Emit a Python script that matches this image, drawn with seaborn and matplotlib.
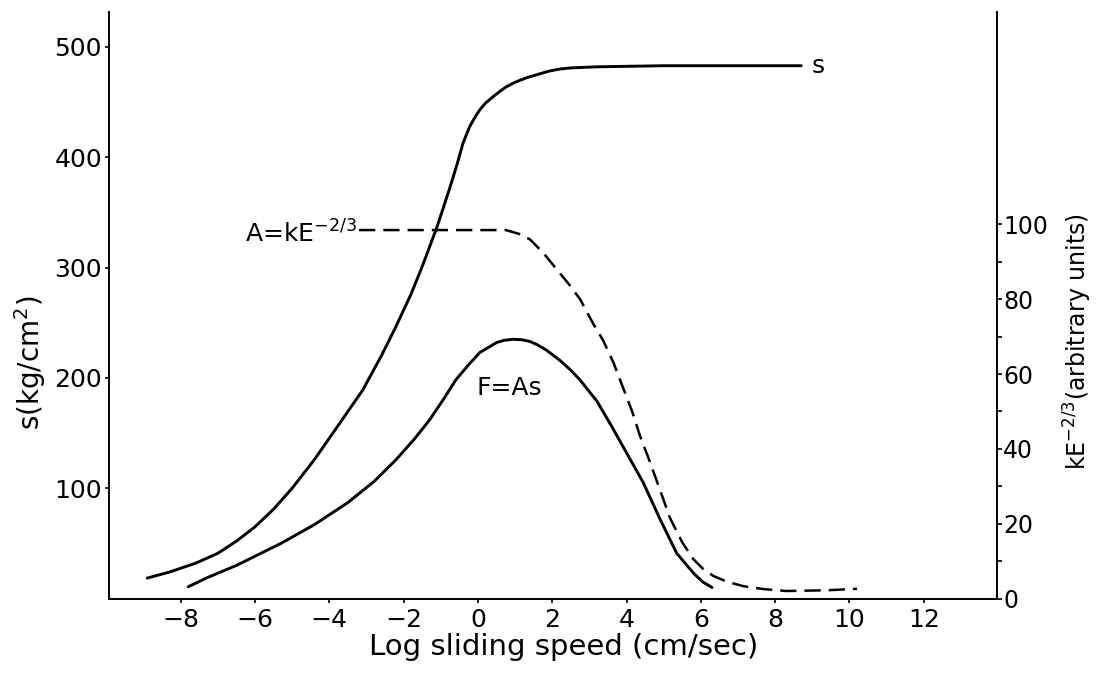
import matplotlib
matplotlib.use("Agg")
import matplotlib.pyplot as plt
import pandas as pd
import seaborn as sns

# Strength s (kg/cm^2) against log sliding speed (cm/sec)
s_speed = [-8.9, -8.3, -7.6, -7.0, -6.5, -6.0, -5.5, -5.0, -4.4, -3.8, -3.1,
           -2.6, -2.2, -1.8, -1.5, -1.1, -0.75, -0.55, -0.4, -0.22, -0.05,
           0.05, 0.2, 0.41, 0.6, 0.77, 1.0, 1.3, 1.6, 1.9, 2.2, 2.5, 3.2,
           5.0, 8.7]
s_strength = [18.5, 24, 32, 41, 52, 65, 81, 100, 126, 155, 189,
              220, 247, 276, 301, 337, 373, 395, 413, 428, 438,
              443, 449, 455, 460, 464, 468, 472, 475, 478, 480, 481, 482,
              483, 483]

# Friction F = A s (same scale as s)
f_speed = [-7.8, -7.3, -6.5, -5.9, -5.3, -4.4, -3.5, -2.8, -2.2, -1.7, -1.3,
           -0.9, -0.6, -0.25, 0.05, 0.3, 0.5, 0.7, 0.95, 1.2, 1.4, 1.6,
           1.85, 2.2, 2.5, 2.75, 3.2, 3.6, 4.0, 4.45, 4.9, 5.35, 5.6, 5.8,
           6.05, 6.3]
f_force = [10.6, 18.7, 30, 40, 50, 67, 87, 106, 126, 145, 162,
           182, 198, 212, 223, 228, 232, 234, 235, 234.5, 233, 230,
           225, 216, 207, 198, 179, 156, 132, 105, 72, 41, 31, 23,
           15, 10]

# Contact area A = kE^(-2/3), arbitrary units (right axis)
a_speed = [-3.2, 0.0, 0.75, 1.1, 1.4, 1.75, 2.12, 2.45, 2.75, 3.1, 3.37,
           3.65, 3.9, 4.15, 4.36, 4.63, 4.9, 5.17, 5.5, 5.8, 6.05, 6.34,
           6.7, 7.14, 7.7, 8.3, 9.4, 10.2]
a_area = [98.5, 98.5, 98.5, 97.5, 96, 92.5, 88, 84, 80, 73.5, 69,
          63, 56.5, 50, 43.5, 36.5, 29, 21.5, 15, 10.5, 8, 6,
          4.5, 3.3, 2.5, 2, 2.2, 2.6]

x_ticks = [-8, -6, -4, -2, 0, 2, 4, 6, 8, 10, 12]
s_ticks = [100, 200, 300, 400, 500]
a_ticks = [0, 20, 40, 60, 80, 100]
a_minor = [10, 30, 50, 70, 90]

sns.set_theme(style="ticks")
plt.rcParams["font.family"] = ["DejaVu Sans"]
plt.rcParams["axes.edgecolor"] = "black"
plt.rcParams["axes.linewidth"] = 1.4

W, H = 1097, 673
fig = plt.figure(figsize=(W / 100, H / 100), dpi=100)
fig.patch.set_facecolor("white")
ax = fig.add_axes([109 / W, 1 - 598.5 / H, 888 / W, 586.5 / H])
ax2 = ax.twinx()

s_df = pd.DataFrame({"speed": s_speed, "s": s_strength})
f_df = pd.DataFrame({"speed": f_speed, "F": f_force})
a_df = pd.DataFrame({"speed": a_speed, "A": a_area})

sns.lineplot(data=s_df, x="speed", y="s", ax=ax, color="black", lw=2.1)
sns.lineplot(data=f_df, x="speed", y="F", ax=ax, color="black", lw=2.1)
sns.lineplot(data=a_df, x="speed", y="A", ax=ax2, color="black", lw=1.8)
for line in ax.lines + ax2.lines:
    line.set_solid_joinstyle("round")
    line.set_dash_joinstyle("round")
ax2.lines[-1].set_linestyle((0, (6.5, 3.2)))

ax.set_xlim(-9.93, 13.97)
ax.set_ylim(0, 531.7)
ax2.set_ylim(0, 156.8)

ax.set_xticks(x_ticks)
ax.set_yticks(s_ticks)
ax2.set_yticks(a_ticks)
ax2.set_yticks(a_minor, minor=True)

for a in (ax, ax2):
    a.set_facecolor("none")
    a.spines["top"].set_visible(False)
    a.grid(False)
ax.spines["right"].set_visible(False)
ax2.spines["left"].set_visible(False)
ax2.spines["bottom"].set_visible(False)
ax.patch.set_facecolor("white")

ax.tick_params(axis="both", direction="out", length=3, width=1.2,
               labelsize=18, colors="black")
ax.tick_params(axis="x", pad=4)
ax.tick_params(axis="y", pad=2)
ax2.tick_params(axis="y", which="both", direction="out", length=3.5,
                width=1.2, labelsize=17, pad=1, colors="black")

ax.set_xlabel("Log sliding speed (cm/sec)", fontsize=21, color="black")
ax.xaxis.set_label_coords((564 - 109) / 888, (598.5 - 647) / 586.5)
ax.xaxis.label.set_va("center")

ax.set_ylabel("s(kg/cm$^2$)", fontsize=20, color="black")
ax.yaxis.label.set_va("center")
ax.yaxis.set_label_coords((30 - 109) / 888, (598.5 - 363) / 586.5)

ax2.set_ylabel("kE$^{-2/3}$(arbitrary units)", fontsize=17, color="black")
ax2.yaxis.label.set_va("center")
ax2.yaxis.set_label_coords((1078 - 109) / 888, (598.5 - 342) / 586.5)

# Curve annotations
ax.text(8.99, 483, "s", fontsize=18, ha="left", va="center", color="black")
ax.text(-3.25, 330, "A=kE$^{-2/3}$", fontsize=18, ha="right",
        va="center", color="black")
ax.text(-0.03, 191, "F=As", fontsize=18, ha="left", va="center",
        color="black")

fig.savefig("out.png", dpi=100, facecolor="white")
